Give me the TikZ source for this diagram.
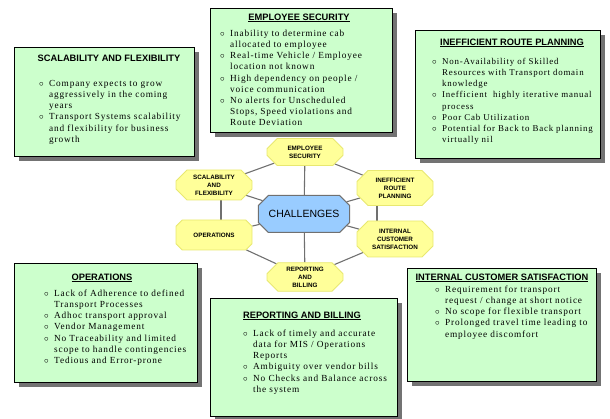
\documentclass[tikz,border=0pt]{standalone}
\usepackage{fontspec}
\setmainfont{Liberation Serif}
\newfontfamily\bodyfont[LetterSpace=9]{Liberation Serif}
\newfontfamily\titlefont{Liberation Sans}
\usetikzlibrary{shapes.misc,shadows,backgrounds}
\definecolor{boxgreen}{HTML}{CCFFCC}
\definecolor{octyellow}{HTML}{FFFF99}
\definecolor{octborder}{HTML}{E8E870}
\definecolor{hubblue}{HTML}{99CCFF}
\definecolor{linkgray}{HTML}{707070}
\newcommand{\bi}[1]{\par\noindent\hangindent=10pt\hangafter=1\makebox[10pt][l]{$\circ$}{\let\\\newline#1}\par}
\tikzset{
  x=1pt, y=-1pt,
  infobox/.style={draw=black, line width=0.9pt, fill=boxgreen, anchor=north west,
    drop shadow={shadow xshift=5pt, shadow yshift=-5pt, fill=black!55, opacity=1}},
  ttl/.style={font=\titlefont\bfseries\fontsize{9.3}{11}\selectfont, inner sep=0pt},
  body/.style={anchor=north west, inner sep=0pt, text width=185pt,
    font=\bodyfont\fontsize{9.3}{11.2}\selectfont\raggedright},
  oct/.style={chamfered rectangle, chamfered rectangle xsep=8pt, draw=octborder, line width=0.8pt,
    fill=octyellow, minimum width=76pt, inner sep=1pt, align=center,
    font=\titlefont\bfseries\fontsize{6.3}{8}\selectfont},
  hub/.style={chamfered rectangle, chamfered rectangle xsep=9pt, draw=linkgray, line width=1pt,
    fill=hubblue, minimum width=86pt, minimum height=37pt, font=\titlefont\fontsize{10.5}{12}\selectfont},
  link/.style={draw=linkgray, line width=1.1pt}
}
\begin{document}
\begin{tikzpicture}
\useasboundingbox (0,0) rectangle (610,419);
% boxes
\node[infobox, minimum width=180pt, minimum height=109pt] (sbox) at (14,47) {};
\node[infobox, minimum width=182pt, minimum height=124pt] (ebox) at (210,8) {};
\node[infobox, minimum width=185pt, minimum height=128pt] (ibox) at (415,30) {};
\node[infobox, minimum width=183pt, minimum height=119pt] (obox) at (14,263) {};
\node[infobox, minimum width=187pt, minimum height=118pt] (rbox) at (210,298) {};
\node[infobox, minimum width=189pt, minimum height=113pt] (cbox) at (407,268) {};
% titles
\node[ttl] (stitle) at (109,58) {SCALABILITY AND FLEXIBILITY};
\node[ttl] (etitle) at (299,18) {\underline{EMPLOYEE SECURITY}};
\node[ttl] (ititle) at (512,43) {\underline{INEFFICIENT ROUTE PLANNING}};
\node[ttl] (otitle) at (102,278) {\underline{OPERATIONS}};
\node[ttl] (rtitle) at (302,316) {\underline{REPORTING AND BILLING}};
\node[ttl] (ctitle) at (502,278) {\underline{INTERNAL CUSTOMER SATISFACTION}};
% bodies
\node[body] (stext) at (39,75) {%
\bi{Company expects to grow\\aggressively in the coming\\years}
\bi{Transport Systems scalability\\and flexibility for business\\growth}};
\node[body] (etext) at (220,25) {%
\bi{Inability to determine cab\\allocated to employee}
\bi{Real-time Vehicle / Employee\\location not known}
\bi{High dependency on people /\\voice communication}
\bi{No alerts for Unscheduled\\Stops, Speed violations and\\Route Deviation}};
\node[body, font=\bodyfont\fontsize{8.9}{11.2}\selectfont\raggedright] (itext) at (432,53) {%
\bi{Non-Availability of Skilled\\Resources with Transport domain\\knowledge}
\bi{Inefficient\ \ highly iterative manual\\process}
\bi{Poor Cab Utilization}
\bi{Potential for Back to Back planning\\virtually nil}};
\node[body] (otext) at (44,285) {%
\bi{Lack of Adherence to defined\\Transport Processes}
\bi{Adhoc transport approval}
\bi{Vendor Management}
\bi{No Traceability and limited\\scope to handle contingencies}
\bi{Tedious and Error-prone}};
\node[body] (rtext) at (243,325) {%
\bi{Lack of timely and accurate\\data for MIS / Operations\\Reports}
\bi{Ambiguity over vendor bills}
\bi{No Checks and Balance across\\the system}};
\node[body] (ctext) at (435,281) {%
\bi{Requirement for transport\\request / change at short notice}
\bi{No scope for flexible transport}
\bi{Prolonged travel time leading to\\employee discomfort}};
% octagons
\node[hub] (hub) at (304,214) {CHALLENGES};
\node[oct, minimum height=27pt] (oemp) at (305,152) {EMPLOYEE\\SECURITY};
\node[oct, minimum height=30pt] (oscal) at (214,185) {SCALABILITY\\AND\\FLEXIBILITY};
\node[oct, minimum height=35pt] (oineff) at (395,188) {INEFFICIENT\\ROUTE\\PLANNING};
\node[oct, minimum height=30pt] (oops) at (214,235) {OPERATIONS};
\node[oct, minimum height=36pt] (ocust) at (395,239) {INTERNAL\\CUSTOMER\\SATISFACTION};
\node[oct, minimum height=28pt] (orep) at (305,277) {REPORTING\\AND\\BILLING};
\begin{scope}[on background layer]
\draw[link] (oemp) -- (oscal);
\draw[link] (oemp) -- (oineff);
\draw[link] ([xshift=7pt]oscal.center) -- ([xshift=7pt]oops.center);
\draw[link] ([xshift=-18pt]oineff.center) -- ([xshift=-18pt]ocust.center);
\draw[link] (oops) -- (orep);
\draw[link] (ocust) -- (orep);
\draw[link] (hub) -- (oemp);
\draw[link] (hub) -- (orep);
\draw[link] (hub) -- (oscal);
\draw[link] (hub) -- (oineff);
\draw[link] (hub) -- (oops);
\draw[link] (hub) -- (ocust);
\end{scope}
\end{tikzpicture}
\end{document}
